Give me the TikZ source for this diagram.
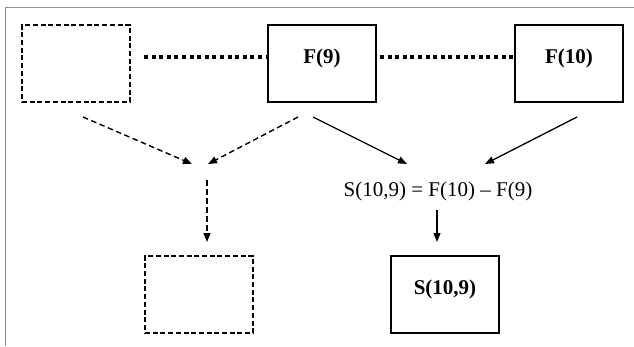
\documentclass[tikz,border=0pt]{standalone}
\usepackage{fontspec}
\setmainfont{Liberation Serif}
\usetikzlibrary{arrows.meta}

\tikzset{
  solidbox/.style={draw, line width=1.8bp, minimum width=108bp, minimum height=77bp,
    inner sep=0pt, text height=0pt, text depth=0pt, font=\fontsize{21bp}{24bp}\selectfont\bfseries},
  dashbox/.style={draw, line width=1.3bp, dash pattern=on 5bp off 2.7bp,
    minimum width=108bp, minimum height=77bp, inner sep=0pt},
  dotline/.style={line width=4bp, dash pattern=on 4bp off 3.6bp},
  solidarrow/.style={line width=1.3bp, -{Triangle[length=9bp,width=7bp]}},
  dasharrow/.style={line width=1.4bp, dash pattern=on 5.5bp off 3.5bp,
    -{Triangle[length=9bp,width=7bp]}},
  frameline/.style={draw=black!45, line width=1bp},
}

\begin{document}
\begin{tikzpicture}[x=1bp, y=-1bp]
  \useasboundingbox (0,0) rectangle (634,346);

  % page frame (top and left edges)
  \coordinate (ftl) at (5,7.5);
  \coordinate (ftr) at (634,7.5);
  \coordinate (fbl) at (5,346);
  \draw[frameline] (ftr) -- (ftl) -- (fbl);

  % boxes
  \node[dashbox]  (prev) at (76,63.5) {};
  \node[solidbox] (f9)   at (322,63.5) {F(9)};
  \node[solidbox] (f10)  at (569,63.5) {F(10)};
  \node[dashbox]  (sprev) at (199,294.5) {};
  \node[solidbox] (s109) at (445,294.5) {S(10,9)};

  % formula
  \node[anchor=base, inner sep=0pt, font=\fontsize{21bp}{24bp}\selectfont]
    (eq) at (438,196) {S(10,9) = F(10) – F(9)};

  % dotted links between the top boxes
  \coordinate (d1s) at (144,56.5);
  \coordinate (d2s) at (380,56.5);
  \draw[dotline] (d1s) -- (f9.west |- d1s);
  \draw[dotline] (d2s) -- (f10.west |- d2s);

  % arrow end points
  \coordinate (a1s) at (83,117);   \coordinate (a1e) at (192,164);
  \coordinate (a2s) at (298,117);  \coordinate (a2e) at (208,164);
  \coordinate (a3s) at (313,117);  \coordinate (a3e) at (407,164);
  \coordinate (a4s) at (577,117);  \coordinate (a4e) at (485,164);
  \coordinate (a5s) at (207,180);  \coordinate (a5e) at (207,242);
  \coordinate (a6s) at (437,210);  \coordinate (a6e) at (437,242);

  \draw[dasharrow]  (a1s) -- (a1e);
  \draw[dasharrow]  (a2s) -- (a2e);
  \draw[solidarrow] (a3s) -- (a3e);
  \draw[solidarrow] (a4s) -- (a4e);
  \draw[dasharrow]  (a5s) -- (a5e);
  \draw[solidarrow] (a6s) -- (a6e);
\end{tikzpicture}
\end{document}
